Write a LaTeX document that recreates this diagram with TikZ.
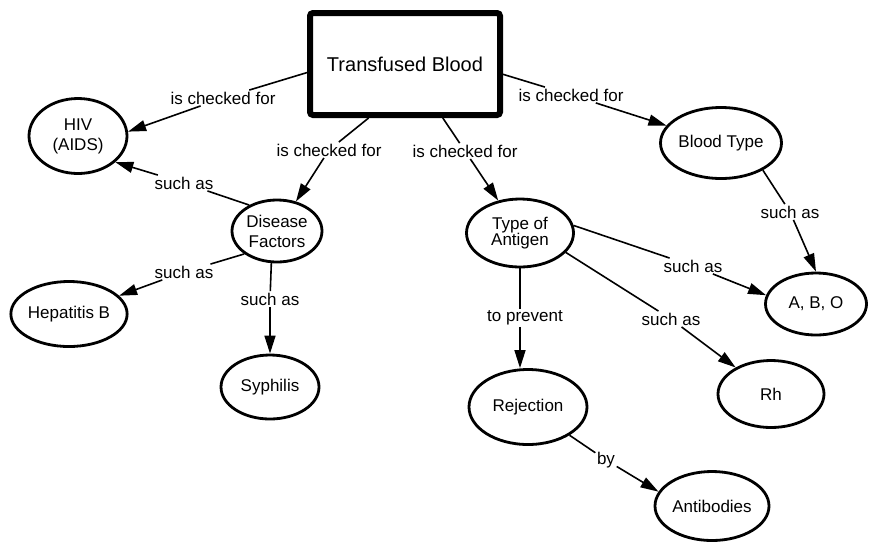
\documentclass[tikz,border=0pt]{standalone}
\usepackage{fontspec}
\setmainfont{Liberation Sans}
\usetikzlibrary{arrows.meta, shapes.geometric}

\begin{document}
\begin{tikzpicture}[x=1pt, y=-1pt,
    concept/.style={draw, ellipse, line width=2.8pt, inner sep=0pt, align=center,
      font=\fontsize{17}{20}\selectfont},
    linkText/.style={inner sep=1.5pt, font=\fontsize{17}{20}\selectfont},
    linkLine/.style={line width=1.6pt},
    linkArrow/.style={line width=1.6pt, -{Triangle[length=18pt, width=11pt]}}]
  \useasboundingbox (0,0) rectangle (872,542);

  \node[draw, line width=6pt, rounded corners=3pt, minimum width=190pt,
        minimum height=102pt, font=\fontsize{20}{24}\selectfont]
    (blood) at (405,64) {Transfused Blood};

  \node[concept, minimum width=98pt, minimum height=75pt] (hiv) at (78,136) {HIV\\(AIDS)};
  \node[concept, minimum width=90pt, minimum height=62pt] (disease) at (277,231) {Disease\\Factors};
  \node[concept, minimum width=114pt, minimum height=65pt] (hepatitis) at (69,314) {Hepatitis B};
  \node[concept, minimum width=98pt, minimum height=64pt] (syphilis) at (270,387) {Syphilis};
  \node[concept, minimum width=121pt, minimum height=71pt] (bloodType) at (721,143) {Blood Type};
  \node[concept, minimum width=107pt, minimum height=68pt] (antigen) at (520,233) {Type of\\[-4pt]Antigen};
  \node[concept, minimum width=101pt, minimum height=62pt] (abo) at (816,304) {A, B, O};
  \node[concept, minimum width=118pt, minimum height=75pt] (rejection) at (528,407) {Rejection};
  \node[concept, minimum width=106pt, minimum height=67pt] (rh) at (771,394) {Rh};
  \node[concept, minimum width=114pt, minimum height=69pt] (antibodies) at (712,506) {Antibodies};

  \node[linkText] (lblHiv) at (223,98) {is checked for};
  \node[linkText] (lblDisease) at (329,150) {is checked for};
  \node[linkText] (lblAntigen) at (465,151) {is checked for};
  \node[linkText] (lblType) at (571,95) {is checked for};
  \node[linkText] (lblSuchHiv) at (184,183) {such as};
  \node[linkText] (lblSuchHep) at (184,272) {such as};
  \node[linkText] (lblSuchSyph) at (270,299) {such as};
  \node[linkText] (lblTypeAbo) at (790,212) {such as};
  \node[linkText] (lblAntAbo) at (693,266) {such as};
  \node[linkText] (lblAntRh) at (671,319) {such as};
  \node[linkText] (lblPrevent) at (525,318) {to prevent};
  \node[linkText] (lblBy) at (606,460) {by};

  \draw[linkLine] (blood.185) -- (lblHiv);
  \draw[linkArrow] (lblHiv) -- (hiv.5);
  \draw[linkLine] (blood.236) -- (lblDisease);
  \draw[linkArrow] (lblDisease) -- (disease);
  \draw[linkLine] (blood.305) -- (lblAntigen);
  \draw[linkArrow] (lblAntigen) -- (antigen);
  \draw[linkLine] (blood.354) -- (lblType);
  \draw[linkArrow] (lblType) -- (bloodType);

  \draw[linkLine] (disease.137) -- (lblSuchHiv);
  \draw[linkArrow] (lblSuchHiv) -- (hiv.-35);
  \draw[linkLine] (disease.215) -- (lblSuchHep);
  \draw[linkArrow] (lblSuchHep) -- (hepatitis);
  \draw[linkLine] (disease.260) -- (lblSuchSyph);
  \draw[linkArrow] (lblSuchSyph) -- (syphilis);

  \draw[linkLine] (bloodType.-33) -- (lblTypeAbo);
  \draw[linkArrow] (lblTypeAbo) -- (abo.north);
  \draw[linkLine] (antigen.8) -- (lblAntAbo);
  \draw[linkArrow] (lblAntAbo) -- (abo.170);
  \draw[linkLine] (antigen.-23) -- (lblAntRh);
  \draw[linkArrow] (lblAntRh) -- (rh);
  \draw[linkLine] (antigen.south) -- (antigen.south |- lblPrevent.north);
  \draw[linkArrow] (antigen.south |- lblPrevent.south) -- (antigen.south |- rejection.north);
  \draw[linkLine] (rejection) -- (lblBy);
  \draw[linkArrow] (lblBy) -- (antibodies.165);
\end{tikzpicture}
\end{document}
